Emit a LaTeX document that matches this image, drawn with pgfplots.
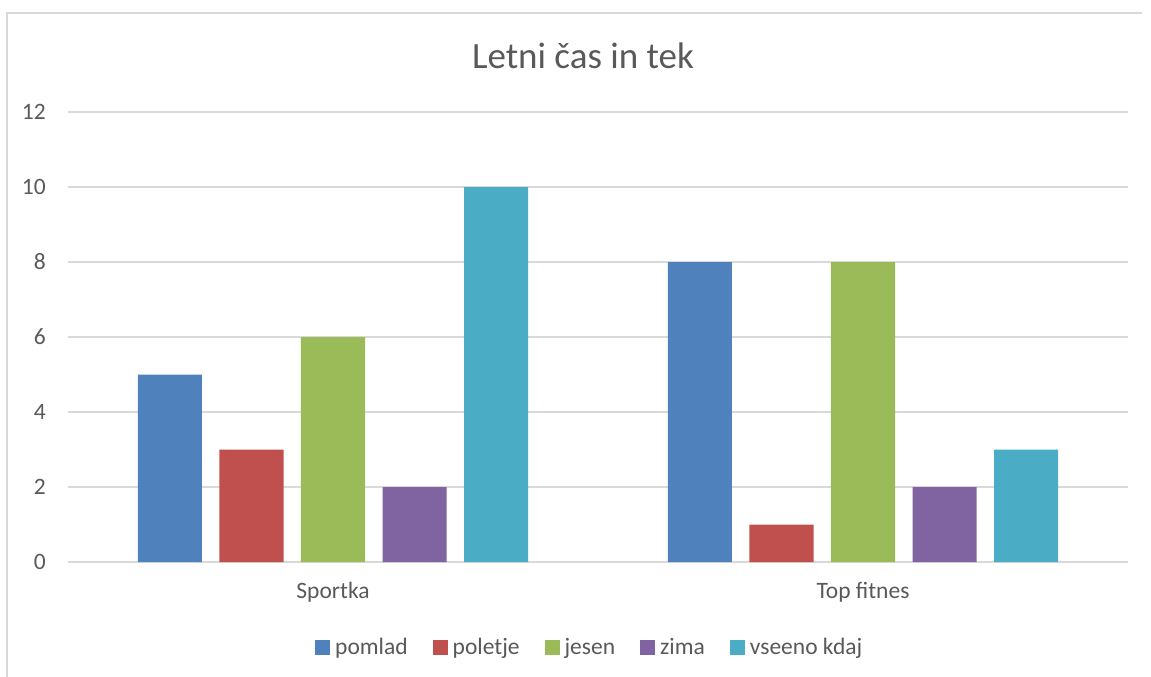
\documentclass[border=0pt]{standalone}
\usepackage{pgfplots}
\pgfplotsset{compat=1.18}
\usepackage{fontspec}
\setmainfont{Carlito}
\definecolor{c1}{HTML}{4F81BD}
\definecolor{c2}{HTML}{C0504D}
\definecolor{c3}{HTML}{9BBB59}
\definecolor{c4}{HTML}{8064A2}
\definecolor{c5}{HTML}{4BACC6}
\definecolor{txt}{HTML}{595959}
\definecolor{grd}{HTML}{D9D9D9}
\begin{document}
\begin{tikzpicture}[x=1pt,y=1pt]
\useasboundingbox (0,0) rectangle (1151,-677);
\draw[grd, line width=1.2pt] (7,-690) -- (7,-13) -- (1142,-13);
\node[txt, font=\fontsize{37}{44}\selectfont, anchor=base, inner sep=0pt] at (583,-68) {Letni čas in tek};
\begin{axis}[
  at={(68pt,-562pt)}, anchor=south west,
  scale only axis, width=1060pt, height=450pt,
  xmin=-0.5, xmax=1.5, ymin=0, ymax=12,
  ytick={0,2,...,12}, xtick={0,1}, xticklabels={Sportka, Top fitnes},
  separate axis lines, axis x line*=bottom, axis y line*=left,
  y axis line style={draw=none},
  x axis line style={grd, line width=1.5pt},
  major tick length=0pt,
  ymajorgrids, grid style={grd, line width=1.2pt},
  /pgf/number format/assume math mode=true,
  ticklabel style={font=\fontsize{23.5}{28}\selectfont, text=txt, inner sep=0pt},
  yticklabel style={xshift=-22pt},
  xticklabel style={yshift=-20pt},
  ybar, bar width=0.1208,
  legend columns=5,
  legend style={draw=none, at={(0.2330,-0.19)}, anchor=west,
    font=\fontsize{23.5}{28}\selectfont, text=txt, inner sep=0pt,
    nodes={inner sep=5pt},
    /tikz/every even column/.append style={column sep=20pt}},
  legend image code/.code={\fill[#1] (0pt,-7.5pt) rectangle (15pt,7.5pt);},
]
\addplot+[fill=c1, draw=none, bar shift=-0.3077] coordinates {(0,5) (1,8)};
\addplot+[fill=c2, draw=none, bar shift=-0.1538] coordinates {(0,3) (1,1)};
\addplot+[fill=c3, draw=none, bar shift=0] coordinates {(0,6) (1,8)};
\addplot+[fill=c4, draw=none, bar shift=0.1538] coordinates {(0,2) (1,2)};
\addplot+[fill=c5, draw=none, bar shift=0.3077] coordinates {(0,10) (1,3)};
\legend{pomlad, poletje, jesen, zima, vseeno kdaj}
\end{axis}
\end{tikzpicture}
\end{document}
